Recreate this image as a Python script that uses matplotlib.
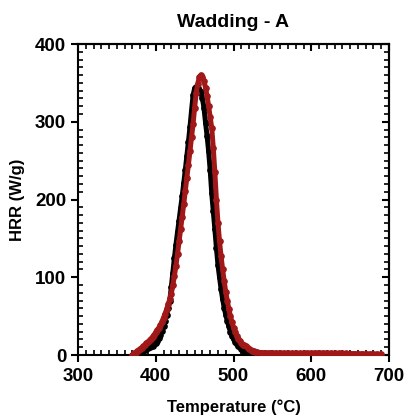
import numpy as np
import matplotlib
matplotlib.use("Agg")
import matplotlib.pyplot as plt
from matplotlib.ticker import MultipleLocator

plt.rcParams['font.family'] = ['Liberation Sans', 'DejaVu Sans']
plt.rcParams['font.weight'] = 'bold'

title = "Wadding - A"
xlabel = "Temperature (\u00b0C)"
ylabel = "HRR (W/g)"

# run 1 (black), read every 2 degC
temp_black = np.arange(374, 520, 2)
hrr_black = [0, 1, 2, 3, 4, 5, 6, 7.5, 9, 10, 11, 12, 14, 16, 18, 22, 26, 31, 37,
             44, 52, 61, 70, 87, 106, 125, 142, 158, 173, 189, 204, 221, 238, 256,
             274, 293, 314, 334, 343, 345, 344, 341, 338, 330, 318, 299, 282, 262,
             238, 208, 185, 162, 138, 116, 100, 85, 72, 61, 52, 44, 37, 30, 25, 21,
             17, 14, 12, 10.5, 8, 6, 4, 2, 0.5]

# run 2 (red), every 2 degC over the peak, every 5 degC in the tail
temp_red = list(np.arange(370, 532, 2)) + list(np.arange(535, 695, 5))
hrr_red = [0, 2, 3, 5, 6, 8, 9.5, 11, 13, 15, 17, 19, 21, 23.5, 26, 29, 32, 35, 38,
           43, 48, 53, 59, 65, 72, 79, 90, 102, 115, 130, 146, 162, 178, 194, 211,
           228, 245, 262, 280, 297, 318, 337, 349, 357, 360, 358, 352, 344, 333,
           320, 306, 292, 266, 235, 200, 170, 146, 127, 110, 95, 81, 70, 59, 50, 42,
           35, 30, 25, 21, 18, 15, 13, 12.5, 11, 9.5, 8, 6.5, 5.5, 4.8, 4.2, 3.5,
           3.2, 3.0, 2.9, 2.8, 2.7, 2.6, 2.5, 2.5, 2.4, 2.4, 2.3, 2.4, 2.5, 2.6,
           2.7, 2.7, 2.6, 2.5, 2.4, 2.3, 2.2, 2.1, 2.0, 1.9, 1.8, 1.7, 1.6, 1.5,
           1.4, 1.3, 1.2, 1.0]

fig = plt.figure(figsize=(4.04, 4.18), dpi=100)
ax = fig.add_axes([0.193, 0.1507, 0.770, 0.744])

ax.plot(temp_black, hrr_black, color='black', lw=3.6, marker='o', ms=3.8,
        solid_capstyle='round', zorder=3)
ax.plot(temp_red, hrr_red, color='#a01818', lw=3.6, marker='o', ms=3.8,
        solid_capstyle='round', zorder=4)

ax.set_xlim(300, 700)
ax.set_ylim(0, 400)
ax.xaxis.set_major_locator(MultipleLocator(100))
ax.xaxis.set_minor_locator(MultipleLocator(10))
ax.yaxis.set_major_locator(MultipleLocator(100))
ax.yaxis.set_minor_locator(MultipleLocator(10))

for s in ax.spines.values():
    s.set_linewidth(1.5)

ax.tick_params(which='major', direction='out', length=5, width=1.5, labelsize=13.5)
ax.tick_params(axis='x', which='major', pad=4)
ax.tick_params(axis='y', which='major', pad=3.5)
ax.tick_params(which='minor', direction='in', length=3.5, width=1.2)

# top and right: ticks inside, no labels
top = ax.secondary_xaxis('top')
top.xaxis.set_major_locator(MultipleLocator(100))
top.xaxis.set_minor_locator(MultipleLocator(10))
top.tick_params(which='major', direction='in', length=5, width=1.5, labeltop=False)
top.tick_params(which='minor', direction='in', length=3.5, width=1.2)
right = ax.secondary_yaxis('right')
right.yaxis.set_major_locator(MultipleLocator(100))
right.yaxis.set_minor_locator(MultipleLocator(10))
right.tick_params(which='major', direction='in', length=5, width=1.5, labelright=False)
right.tick_params(which='minor', direction='in', length=3.5, width=1.2)
for sa in (top, right):
    for s in sa.spines.values():
        s.set_linewidth(1.5)

for lab in ax.get_xticklabels() + ax.get_yticklabels():
    lab.set_fontweight('bold')

ax.set_xlabel(xlabel, fontsize=12, fontweight='bold', labelpad=11)
ax.set_ylabel(ylabel, fontsize=12, fontweight='bold', labelpad=7)
ax.set_title(title, fontsize=14, fontweight='bold', pad=12)

fig.savefig("out.png", dpi=100)
